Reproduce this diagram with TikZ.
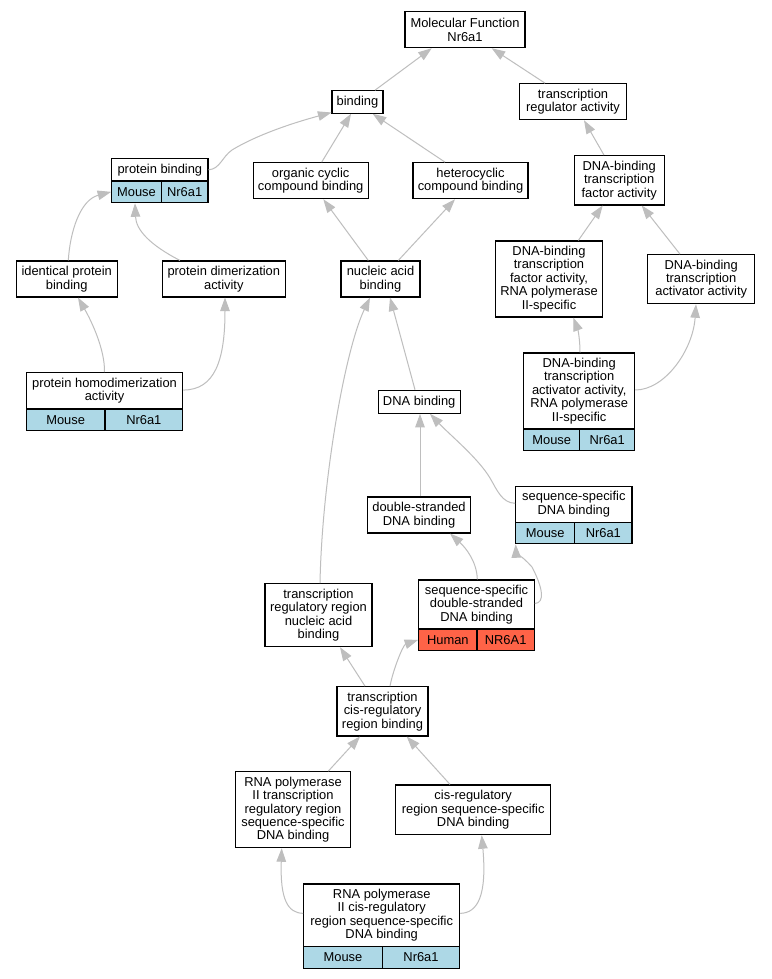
\documentclass[tikz,border=0pt]{standalone}
\usepackage{fontspec}
\setmainfont{Liberation Sans}
\usetikzlibrary{arrows.meta}
\definecolor{edgegray}{RGB}{190,190,190}
\definecolor{mouseblue}{RGB}{173,216,230}
\definecolor{humanred}{RGB}{255,99,71}
\tikzset{
  box/.style={draw=black, line width=1.1pt, fill=white, inner sep=0pt, align=center,
    font={\fontsize{12.9}{13.4}\selectfont}},
  mcell/.style={box, fill=mouseblue},
  hcell/.style={box, fill=humanred},
  isa/.style={draw=edgegray, line width=1pt, -{Triangle[length=13.5pt,width=9.5pt]}, color=edgegray},
}
\begin{document}
\begin{tikzpicture}[x=1pt,y=-1pt]
\useasboundingbox[fill=white] (0,0) rectangle (771,979);
% plain boxes
\node[box, minimum width=120pt, minimum height=36pt] (mf) at (465,29.7) {Molecular Function\\Nr6a1};
\node[box, minimum width=51pt, minimum height=22.5pt] (bind) at (357.5,102) {binding};
\node[box, minimum width=107.4pt, minimum height=36pt] (tra) at (573,101.7) {transcription\\regulator activity};
\node[box, minimum width=114.7pt, minimum height=36pt] (org) at (310.7,180.7) {organic cyclic\\compound binding};
\node[box, minimum width=115pt, minimum height=36pt] (het) at (470.5,180.7) {heterocyclic\\compound binding};
\node[box, minimum width=89.7pt, minimum height=49.3pt] (dbtfa) at (619.2,180.3) {DNA-binding\\transcription\\factor activity};
\node[box, minimum width=101.3pt, minimum height=36pt] (ident) at (66.7,279) {identical protein\\binding};
\node[box, minimum width=123pt, minimum height=36pt] (dim) at (223.8,279) {protein dimerization\\activity};
\node[box, minimum width=79pt, minimum height=36pt] (nuc) at (380.5,279) {nucleic acid\\binding};
\node[box, minimum width=106.6pt, minimum height=76pt] (dbtfa2) at (549,279) {DNA-binding\\transcription\\factor activity,\\RNA polymerase\\II-specific};
\node[box, minimum width=107pt, minimum height=49pt] (dbtaa) at (701.2,279.2) {DNA-binding\\transcription\\activator activity};
\node[box, minimum width=81.7pt, minimum height=23pt] (dnab) at (419.2,401.8) {DNA binding};
\node[box, minimum width=102.6pt, minimum height=36pt] (ds) at (419,515) {double-stranded\\DNA binding};
\node[box, minimum width=107pt, minimum height=63pt] (trr) at (318.5,615.2) {transcription\\regulatory region\\nucleic acid\\binding};
\node[box, minimum width=91pt, minimum height=49.3pt] (tcrb) at (382.5,711.3) {transcription\\cis-regulatory\\region binding};
\node[box, minimum width=114.6pt, minimum height=76pt] (rp2trr) at (293,809.7) {RNA polymerase\\II transcription\\regulatory region\\sequence-specific\\DNA binding};
\node[box, minimum width=155pt, minimum height=49.7pt] (cisreg) at (473.2,809.8) {cis-regulatory\\region sequence-specific\\DNA binding};
% annotated boxes
\node[box, minimum width=96.3pt, minimum height=22.3pt] (pb) at (159.85,169.85) {protein binding};
\node[mcell, minimum width=49.6pt, minimum height=21.7pt] (pbL) at (136.5,191.85) {Mouse};
\node[mcell, minimum width=46.7pt, minimum height=21.7pt] (pbR) at (184.65,191.85) {Nr6a1};
\node[box, minimum width=156.4pt, minimum height=36.3pt] (hd) at (104.5,390.85) {protein homodimerization\\activity};
\node[mcell, minimum width=78.7pt, minimum height=21.7pt] (hdL) at (65.65,419.85) {Mouse};
\node[mcell, minimum width=77.7pt, minimum height=21.7pt] (hdR) at (143.85,419.85) {Nr6a1};
\node[box, minimum width=111pt, minimum height=76pt] (dbtaa2) at (579.2,391) {DNA-binding\\transcription\\activator activity,\\RNA polymerase\\II-specific};
\node[mcell, minimum width=56pt, minimum height=21.7pt] (daL) at (551.7,439.85) {Mouse};
\node[mcell, minimum width=55pt, minimum height=21.7pt] (daR) at (607.2,439.85) {Nr6a1};
\node[box, minimum width=116.3pt, minimum height=36pt] (ssdna) at (573.85,504.3) {sequence-specific\\DNA binding};
\node[mcell, minimum width=59pt, minimum height=21.4pt] (sdL) at (545.2,533) {Mouse};
\node[mcell, minimum width=57.3pt, minimum height=21.4pt] (sdR) at (603.35,533) {Nr6a1};
\node[box, minimum width=115.6pt, minimum height=49pt] (ssds) at (476.5,604.5) {sequence-specific\\double-stranded\\DNA binding};
\node[hcell, minimum width=58.3pt, minimum height=21.7pt] (ssL) at (447.85,639.85) {Human};
\node[hcell, minimum width=57.3pt, minimum height=21.7pt] (ssR) at (505.65,639.85) {NR6A1};
\node[box, minimum width=156pt, minimum height=62.7pt] (rpcis) at (381.7,915.35) {RNA polymerase\\II cis-regulatory\\region sequence-specific\\DNA binding};
\node[mcell, minimum width=78.6pt, minimum height=21.6pt] (rcL) at (343,957.5) {Mouse};
\node[mcell, minimum width=77.4pt, minimum height=21.6pt] (rcR) at (421,957.5) {Nr6a1};
% edges
\draw[isa] ([xshift=17.5pt]bind.north) -- ([xshift=-33.3pt]mf.south);
\draw[isa] ([xshift=-28pt]tra.north) -- ([xshift=26.7pt]mf.south);
\draw[isa] (pb.east) .. controls (220,169) and (222,157) .. (232,150) .. controls (260,133) and (300,121) .. ([yshift=1.3pt]bind.south west);
\draw[isa] ([xshift=11pt]org.north) -- ([xshift=-6.5pt]bind.south);
\draw[isa] ([xshift=-25.5pt]het.north) -- ([xshift=15.2pt]bind.south);
\draw[isa] ([xshift=-12.2pt]nuc.north) -- ([xshift=12.6pt]org.south);
\draw[isa] ([xshift=17.8pt]nuc.north) -- ([xshift=-15.5pt]het.south);
\draw[isa] ([xshift=1.6pt]ident.north) .. controls (70,232) and (80,200) .. (pbL.west);
\draw[isa] ([xshift=-43.8pt]dim.north) .. controls (150,245) and (136,230) .. ([xshift=-1.5pt]pbL.south);
\draw[isa] (hd.north) .. controls (105,350) and (92,322) .. ([xshift=11.3pt]ident.south);
\draw[isa] ([yshift=0.8pt]hd.east) .. controls (215,390) and (225,360) .. ([xshift=1.2pt]dim.south);
\draw[isa] ([xshift=-15.2pt]dbtfa.north) -- ([xshift=11pt]tra.south);
\draw[isa] ([xshift=29.3pt]dbtfa2.north) -- ([xshift=-16.5pt]dbtfa.south);
\draw[isa] ([xshift=-21.2pt]dbtaa.north) -- ([xshift=22.5pt]dbtfa.south);
\draw[isa] ([xshift=0.8pt]dbtaa2.north) .. controls (580,340) and (578,330) .. ([xshift=24.3pt]dbtfa2.south);
\draw[isa] ([yshift=1pt]dbtaa2.east) .. controls (665,390) and (693,350) .. ([xshift=-5.2pt]dbtaa.south);
\draw[isa] ([xshift=-4.2pt]dnab.north) -- ([xshift=9.5pt]nuc.south);
\draw[isa] ([xshift=1.5pt]trr.north) .. controls (322,480) and (345,350) .. ([xshift=-10.5pt]nuc.south);
\draw[isa] ([xshift=1pt]ds.north) -- ([xshift=0.8pt]dnab.south);
\draw[isa] ([yshift=1pt]ssdna.west) .. controls (502,503) and (497,490) .. (490,478) .. controls (478,458) and (450,435) .. ([xshift=10.8pt]dnab.south);
\draw[isa] ([xshift=0.8pt]ssds.north) .. controls (477,562) and (466,548) .. ([xshift=31pt]ds.south);
\draw[isa] ([yshift=1pt]ssds.east) .. controls (545,603) and (543,588) .. (532,567) .. controls (522,556) and (516,552) .. ([xshift=0.5pt]sdL.south west);
\draw[isa] ([xshift=-17.5pt]tcrb.north) -- ([xshift=21.5pt]trr.south);
\draw[isa] ([xshift=7.5pt]tcrb.north) .. controls (393,670) and (403,645) .. (ssL.west);
\draw[isa] ([xshift=35.3pt]rp2trr.north) -- ([xshift=-22.5pt]tcrb.south);
\draw[isa] ([xshift=-23.2pt]cisreg.north) -- ([xshift=24.2pt]tcrb.south);
\draw[isa] ([yshift=2pt]rpcis.west) .. controls (288,913) and (280,900) .. ([xshift=-11.3pt]rp2trr.south);
\draw[isa] ([yshift=2pt]rpcis.east) .. controls (478,913) and (487,895) .. ([xshift=8.5pt]cisreg.south);
\end{tikzpicture}
\end{document}
